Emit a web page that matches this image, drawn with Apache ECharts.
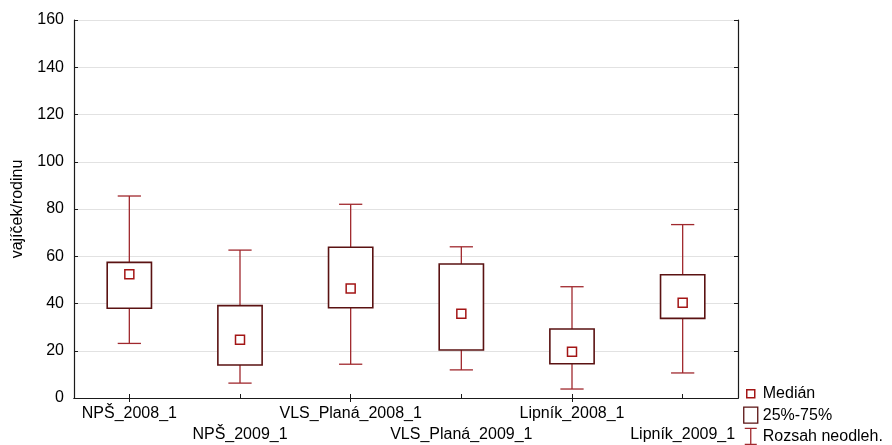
<!DOCTYPE html>
<html>
<head>
<meta charset="utf-8">
<style>
  html, body { margin: 0; padding: 0; background: #fff; }
  #chart { width: 892px; height: 445px; }
</style>
<script src="https://cdn.jsdelivr.net/npm/echarts@6/dist/echarts.min.js"></script>
</head>
<body>
<div id="chart"></div>
<script>
'use strict';
// vajíček/rodinu — box plot (medián, 25%-75%, rozsah neodlehlých)

const categories = ['NPŠ_2008_1', 'NPŠ_2009_1', 'VLS_Planá_2008_1', 'VLS_Planá_2009_1', 'Lipník_2008_1', 'Lipník_2009_1'];
const medians = [52.4, 24.7, 46.3, 35.7, 19.6, 40.3];
const q1Vals = [38.0, 14.0, 38.2, 20.3, 14.5, 33.7];
const q3Vals = [57.4, 39.1, 63.8, 56.7, 29.2, 52.2];
const minVals = [23.1, 6.3, 14.3, 11.9, 3.8, 10.6];
const maxVals = [85.5, 62.6, 82.0, 64.0, 47.1, 73.4];
const yTicks = { min: 0, max: 160, step: 20 };

const FONT = "'Liberation Sans', Arial, sans-serif";
const C = { box: '#5a1212', whisker: '#a0282d', med: '#a31515', grid: '#e2e2e2', axis: '#1a1a1a' };

const boxData = categories.map((c, i) => [i, minVals[i], maxVals[i], q1Vals[i], q3Vals[i]]);
const medData = categories.map((c, i) => [i, medians[i]]);

function renderWhisker(params, api) {
  const i = api.value(0);
  const lo = api.coord([i, api.value(1)]);
  const hi = api.coord([i, api.value(2)]);
  const q1 = api.coord([i, api.value(3)]);
  const q3 = api.coord([i, api.value(4)]);
  const half = api.size([1, 0])[0] * 0.105;
  const st = { stroke: C.whisker, lineWidth: 1.3 };
  const ln = (x1, y1, x2, y2) => ({ type: 'line', shape: { x1, y1, x2, y2 }, style: st });
  return {
    type: 'group',
    children: [
      ln(hi[0], hi[1], q3[0], q3[1]),
      ln(lo[0], lo[1], q1[0], q1[1]),
      ln(hi[0] - half, hi[1], hi[0] + half, hi[1]),
      ln(lo[0] - half, lo[1], lo[0] + half, lo[1])
    ]
  };
}

function renderBox(params, api) {
  const i = api.value(0);
  const q1 = api.coord([i, api.value(3)]);
  const q3 = api.coord([i, api.value(4)]);
  const w = api.size([1, 0])[0] * 0.4;
  return {
    type: 'rect',
    shape: { x: q3[0] - w / 2, y: q3[1], width: w, height: q1[1] - q3[1] },
    style: { fill: '#fff', stroke: C.box, lineWidth: 1.6 }
  };
}

const tickStyle = { show: true, inside: true, length: 4, lineStyle: { color: C.axis } };
const lineStyle = { show: true, lineStyle: { color: C.axis, width: 1.2 } };

const chart = echarts.init(document.getElementById('chart'));
chart.setOption({
  animation: false,
  textStyle: { fontFamily: FONT },
  grid: { left: 74, right: 154, top: 20, bottom: 47, show: false, containLabel: false, outerBoundsMode: 'none' },
  legend: {
    orient: 'vertical', left: 743, top: 385, padding: 0, itemGap: 4, itemWidth: 14, itemHeight: 16,
    textStyle: { fontFamily: FONT, fontSize: 16, color: '#000' },
    data: [
      { name: 'Medián', icon: 'path://M0,0M14,16M3,4h8v8h-8z', itemStyle: { color: '#fff', borderColor: C.med, borderWidth: 1.5 } },
      { name: '25%-75%', icon: 'path://M0,0h14v16h-14z', itemStyle: { color: '#fff', borderColor: C.box, borderWidth: 1.3 } },
      { name: 'Rozsah neodleh.', icon: 'path://M1,0h12M7,0v16M1,16h12', itemStyle: { color: 'transparent', borderColor: C.whisker, borderWidth: 1.3 } }
    ]
  },
  xAxis: [{
    type: 'category', data: categories, position: 'bottom',
    axisLine: lineStyle, axisTick: Object.assign({ alignWithLabel: true }, tickStyle),
    splitLine: { show: false },
    axisLabel: {
      interval: 0, margin: 5, fontSize: 16, color: '#000', lineHeight: 21, fontFamily: FONT,
      formatter: (v, i) => (i % 2 ? '\n' + v : v)
    }
  }, {
    type: 'category', data: categories, position: 'top',
    axisLine: lineStyle, axisTick: Object.assign({ alignWithLabel: true }, tickStyle),
    axisLabel: { show: false }
  }],
  yAxis: [{
    type: 'value', min: yTicks.min, max: yTicks.max, interval: yTicks.step, position: 'left',
    axisLine: lineStyle, axisTick: tickStyle,
    splitLine: { show: true, lineStyle: { color: C.grid, width: 1 } },
    axisLabel: { fontSize: 16, color: '#000', margin: 10, fontFamily: FONT },
    name: 'vajíček/rodinu', nameLocation: 'middle', nameRotate: 90, nameGap: 48,
    nameTextStyle: { fontSize: 16, color: '#000', fontFamily: FONT }
  }, {
    type: 'value', min: yTicks.min, max: yTicks.max, interval: yTicks.step, position: 'right',
    axisLine: lineStyle, axisTick: tickStyle, splitLine: { show: false }, axisLabel: { show: false }
  }],
  series: [
    { name: 'Rozsah neodleh.', type: 'custom', renderItem: renderWhisker, data: boxData,
      encode: { x: 0, y: [1, 2, 3, 4] }, itemStyle: { color: C.whisker }, z: 2 },
    { name: '25%-75%', type: 'custom', renderItem: renderBox, data: boxData,
      encode: { x: 0, y: [1, 2, 3, 4] }, itemStyle: { color: C.box }, z: 3 },
    { name: 'Medián', type: 'scatter', data: medData, symbol: 'rect', symbolSize: 9,
      itemStyle: { color: '#fff', borderColor: C.med, borderWidth: 1.5, opacity: 1 }, z: 4 }
  ]
});
window.addEventListener('resize', () => chart.resize());
</script>
</body>
</html>
